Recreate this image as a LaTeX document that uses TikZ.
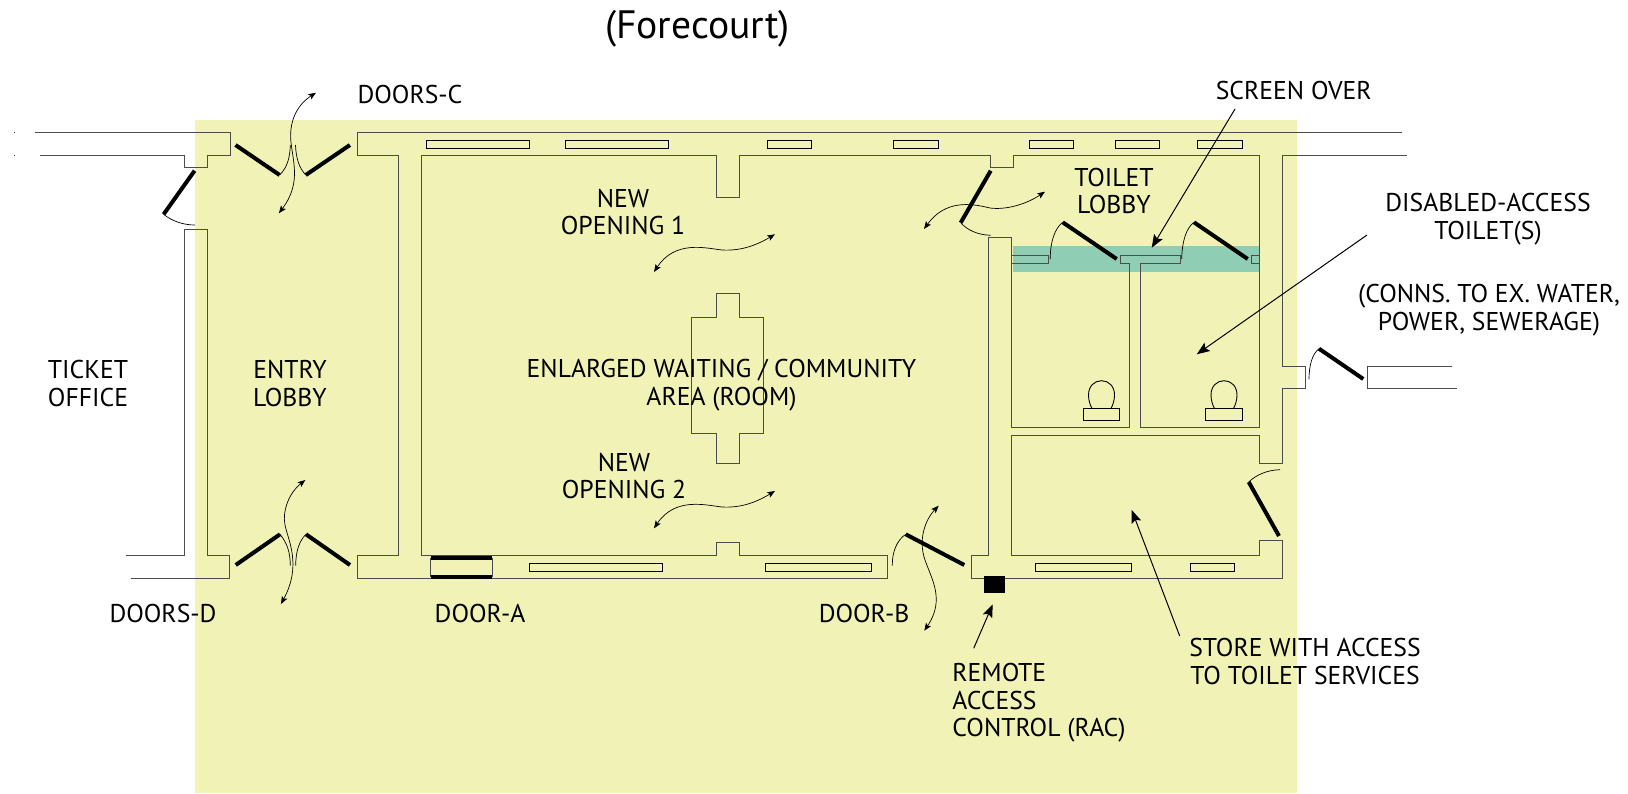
\documentclass[tikz,border=0pt]{standalone}
\usepackage{fontspec}
\setmainfont{PT Sans}
\usetikzlibrary{arrows.meta}
\definecolor{forecourt}{RGB}{241,243,182}
\definecolor{screenband}{RGB}{143,206,180}
\tikzset{
  wall/.style={draw=black!70, line width=0.45pt},
  leaf/.style={draw, line width=2pt},
  swing/.style={draw, line width=0.35pt},
  flow/.style={draw, line width=0.35pt, {Stealth[length=3.8pt,width=3pt,inset=0.8pt]}-{Stealth[length=3.8pt,width=3pt,inset=0.8pt]}},
  leader/.style={draw, line width=0.5pt, -{Stealth[length=6.5pt,width=5pt,inset=1.2pt]}},
  label/.style={align=center, inner sep=0pt, font=\fontsize{12.85}{13.8}\selectfont},
}
\begin{document}
\begin{tikzpicture}[x=0.5pt,y=-0.5pt]
        \useasboundingbox (0,0) rectangle (1628,793);
        %areas
        \fill[forecourt] (195,119.5) rectangle (1297,793);
        \fill[screenband] (1012.7,246.3) rectangle (1259.7,272.3);
        %walls
        \path[wall] (35,132.7) -- (230.7,132.7) -- (230.7,155.3) -- (207.3,155.3) -- (207.3,167.3) -- (184.4,167.3) -- (184.4,155.3) -- (40,155.3);
        \path[wall] (126,555.7) -- (184.7,555.7) -- (184.7,229.7) -- (207,229.7) -- (207,555.7) -- (229,555.7) -- (229,578.3) -- (131.3,578.3);
        \path[wall] (1401.7,132.7) -- (357,132.7) -- (357,155.3) -- (398.7,155.3) -- (398.7,555.7) -- (357,555.7) -- (357,578.3) -- (887.3,578.3) -- (887.3,555.3) -- (739,555.3) -- (739,542) -- (716,542) -- (716,555.3) -- (421,555.3) -- (421,155.3) -- (716,155.3) -- (716,197.3) -- (739,197.3) -- (739,155.3) -- (990.7,155.3) -- (990.7,167.3) -- (1013.3,167.3) -- (1013.3,155.3) -- (1259.7,155.3) -- (1259.7,427.7) -- (1140.3,427.7) -- (1140.3,263.3) -- (1180.7,263.3) -- (1180.7,255) -- (1120,255) -- (1120,263.3) -- (1129,263.3) -- (1129,427.7) -- (1011.3,427.7) -- (1011.3,237.3) -- (988.7,237.3) -- (988.7,555.3) -- (971.3,555.3) -- (971.3,578.3) -- (1282.3,578.3) -- (1282.3,540) -- (1259.3,540) -- (1259.3,555.3) -- (1011.3,555.3) -- (1011.3,435.3) -- (1259.3,435.3) -- (1259.3,463.3) -- (1282.3,463.3) -- (1282.3,388.7) -- (1305.7,388.7) -- (1305.7,366) -- (1282.3,366) -- (1282.3,155.3) -- (1406.7,155.3);
        \path[wall] (1011.3,255) -- (1048.3,255) -- (1048.3,263.3) -- (1011.3,263.3);
        \path[wall] (1259.7,255) -- (1251.3,255) -- (1251.3,263.3) -- (1259.7,263.3);
        \path[wall] (1452,366) -- (1367,366) -- (1367,388.7) -- (1456.7,388.7);
        \path[wall] (14,132.7) -- (14.6,132.7);
        \path[wall] (14,155.3) -- (14.6,155.3);
        %column
        \path[wall] (716,293) -- (739,293) -- (739,317.3) -- (763,317.3) -- (763,433) -- (739,433) -- (739,463.3) -- (716,463.3) -- (716,433) -- (691.7,433) -- (691.7,317.3) -- (716,317.3) -- cycle;
        %windows
        \foreach \xa/\xb in {426.3/529.6, 565.3/668.7, 767/811.7, 893.3/938, 1029/1073.7, 1115/1159.7, 1197.7/1242.3}
          \path[wall,draw=black] (\xa,140.3) rectangle (\xb,148.3);
        \foreach \xa/\xb in {529.3/662, 765.3/871.7, 1035.7/1131.3, 1190.7/1234.3}
          \path[wall,draw=black] (\xa,563.3) rectangle (\xb,571);
        %door a
        \path[wall] (430.7,558) -- (430.7,577.3);
        \path[wall] (492,558) -- (492,577.3);
        \path[leaf] (430.7,558) -- (492,558);
        \path[leaf] (430.7,577.3) -- (492,577.3);
        %toilet pans
        \foreach \xc in {1101.5,1224}{
          \path[wall,draw=black] (\xc-18.2,408.3) rectangle (\xc+18.2,420.7);
          \path[wall,draw=black] (\xc-9.5,408.3) .. controls (\xc-11.5,405) and (\xc-13,400) .. (\xc-13,395) .. controls (\xc-13,386) and (\xc-7,380.7) .. (\xc,380.7) .. controls (\xc+7,380.7) and (\xc+13,386) .. (\xc+13,395) .. controls (\xc+13,400) and (\xc+11.5,405) .. (\xc+9.5,408.3);
        }
        %rac box
        \fill (984,576) rectangle (1005,592.7);
        %door leaves
        \path[leaf] (194.6,170.7) -- (163.6,214.3);
        \path[leaf] (235.5,145) -- (279.6,175);
        \path[leaf] (349.9,145) -- (305.8,175);
        \path[leaf] (235.7,565) -- (280,534.3);
        \path[leaf] (350,565) -- (306,534.3);
        \path[leaf] (905.7,534.3) -- (964.3,565);
        \path[leaf] (990.7,170.7) -- (960.7,222.7);
        \path[leaf] (1062.7,222.3) -- (1116.7,259);
        \path[leaf] (1194,222.3) -- (1247.7,259);
        \path[leaf] (1319,348.7) -- (1363.3,379);
        \path[leaf] (1248.7,482) -- (1279,536);
        %door swings
        \path[swing] (163.6,214.3) .. controls (172,221) and (183,225) .. (194.9,225);
        \path[swing] (279.6,175) .. controls (287,168) and (290,158) .. (290.3,145);
        \path[swing] (305.8,175) .. controls (299,168) and (296,158) .. (295.5,145);
        \path[swing] (280,534.3) .. controls (287,543) and (290.3,552) .. (290.3,565.7);
        \path[swing] (306,534.3) .. controls (299,541) and (295.7,552) .. (295.7,565.7);
        \path[swing] (905.7,534.3) .. controls (897,540) and (892,552) .. (892.3,565.7);
        \path[swing] (960.7,222.7) .. controls (967,230) and (978,235) .. (990.7,235.3);
        \path[swing] (1062.7,222.3) .. controls (1055,228) and (1050,242) .. (1050.3,259);
        \path[swing] (1194,222.3) .. controls (1186,228) and (1182,242) .. (1181.7,259);
        \path[swing] (1319,348.7) .. controls (1312,354) and (1309,366) .. (1309,379.3);
        \path[swing] (1248.7,482) .. controls (1256,475) and (1267,470) .. (1280,469.7);
        %labels
        \node[label, font=\fontsize{19.8}{21}\selectfont] (forecourt) at (697.5,29) {(Forecourt)};
        \node[label] (doorsc) at (410,95) {DOORS-C};
        \node[label] (screen) at (1293.7,90.5) {SCREEN OVER};
        \node[label] (toilet) at (1114,191) {TOILET\\LOBBY};
        \node[label] (disabled) at (1488,219) {DISABLED-ACCESS\\TOILET(S)};
        \node[label] (conns) at (1489,310) {(CONNS. TO EX. WATER,\\POWER, SEWERAGE)};
        \node[label] (opening1) at (623,212) {NEW\\OPENING 1};
        \node[label] (waiting) at (721.5,385) {ENLARGED WAITING / COMMUNITY\\AREA (ROOM)};
        \node[label] (opening2) at (624,476) {NEW\\OPENING 2};
        \node[label] (ticket) at (88,383.5) {TICKET\\OFFICE};
        \node[label] (entry) at (290,383.5) {ENTRY\\LOBBY};
        \node[label] (doorsd) at (163,613) {DOORS-D};
        \node[label] (doora) at (480,613) {DOOR-A};
        \node[label] (doorb) at (864,613) {DOOR-B};
        \node[label, align=left, anchor=west] (rac) at (952,703) {REMOTE\\ACCESS\\CONTROL (RAC)};
        \node[label] (store) at (1305,661.5) {STORE WITH ACCESS\\TO TOILET SERVICES};
        %leaders
        \coordinate (screentip) at (1151.7,247.7);
        \coordinate (disabledtip) at (1196.7,354.3);
        \coordinate (storetip) at (1131.7,510);
        \coordinate (ractip) at (992.7,604.3);
        \coordinate (screenfoot) at (1235,109);
        \coordinate (disabledfoot) at (1367,235);
        \coordinate (storefoot) at (1179.7,636);
        \coordinate (racfoot) at (973.7,648.3);
        \path[leader] (screenfoot) -- (screentip);
        \path[leader] (disabledfoot) -- (disabledtip);
        \path[leader] (storefoot) -- (storetip);
        \path[leader] (racfoot) -- (ractip);
        %passages
        \path[flow] (316,92.7) .. controls (297,105) and (288,122) .. (291.3,145) .. controls (294,165) and (300,185) .. (278.9,213.3);
        \path[flow] (305.3,480) .. controls (290,492) and (282,510) .. (285,525) .. controls (288,540) and (302,565) .. (281,604);
        \path[flow] (775,234.3) .. controls (755,246) and (740,251) .. (722,250) .. controls (705,248) and (675,240) .. (654,272);
        \path[flow] (775,491) .. controls (755,503) and (740,508) .. (722,507) .. controls (705,505) and (675,497) .. (654,528.3);
        \path[flow] (938.7,505.7) .. controls (925,520) and (918,540) .. (925,560) .. controls (932,580) and (945,600) .. (924.3,630.7);
        \path[flow] (1045,191.7) .. controls (1025,205) and (1005,210) .. (990,208) .. controls (970,203) and (945,200) .. (924,229);
      \end{tikzpicture}
\end{document}
